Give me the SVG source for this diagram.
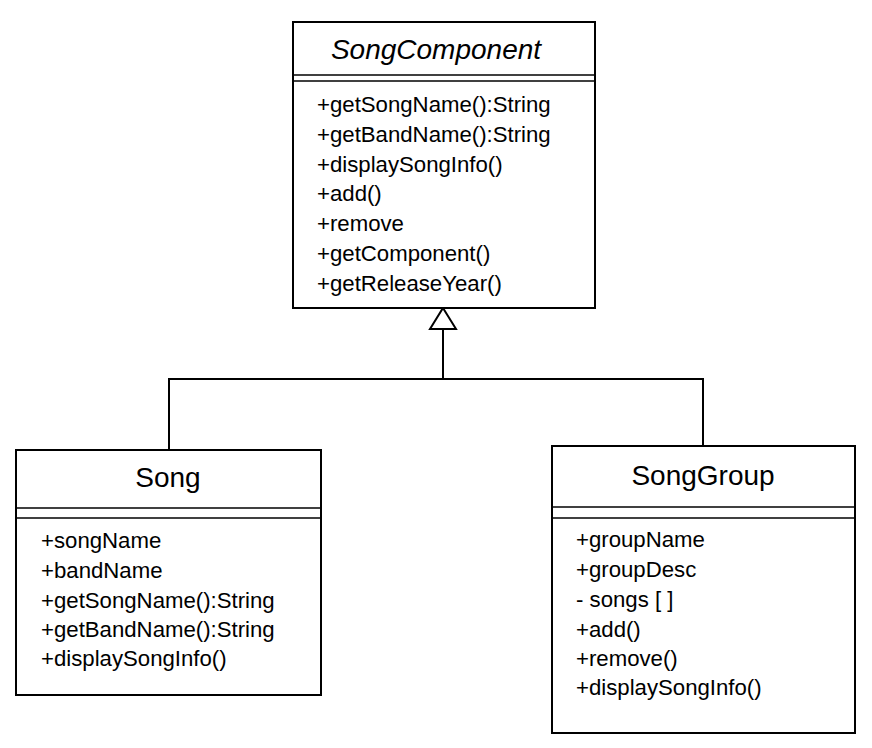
<svg xmlns="http://www.w3.org/2000/svg" width="872" height="748" viewBox="0 0 872 748">
<style>
.box{fill:#fff;stroke:#000;stroke-width:2}
.sep{stroke:#000;stroke-width:1.5}
.title{font-family:"Liberation Sans",Arial,sans-serif;font-size:28px;fill:#000;text-anchor:middle}
.mem{font-family:"Liberation Sans",Arial,sans-serif;font-size:22.2px;fill:#000}
.conn{fill:none;stroke:#000;stroke-width:2}
</style>
<rect width="872" height="748" fill="#fff"/>
<g id="connectors">
<polyline class="conn" points="169,449 169,379 703,379 703,445"/>
<line class="conn" x1="443" y1="379" x2="443" y2="329"/>
<polygon points="443,308 456,329 430,329" fill="#fff" stroke="#000" stroke-width="2"/>
</g>
<g id="SongComponent">
<rect class="box" x="293" y="22" width="302" height="286"/>
<line class="sep" x1="293" y1="75" x2="595" y2="75"/>
<line class="sep" x1="293" y1="81" x2="595" y2="81"/>
<text class="title" x="436" y="59" font-style="italic" font-size="29">SongComponent</text>
<text class="mem" x="317" y="112">+getSongName():String</text>
<text class="mem" x="317" y="142">+getBandName():String</text>
<text class="mem" x="317" y="172">+displaySongInfo()</text>
<text class="mem" x="317" y="201">+add()</text>
<text class="mem" x="317" y="231">+remove</text>
<text class="mem" x="317" y="261">+getComponent()</text>
<text class="mem" x="317" y="291">+getReleaseYear()</text>
</g>
<g id="Song">
<rect class="box" x="16" y="450" width="305" height="245"/>
<line class="sep" x1="16" y1="508" x2="321" y2="508"/>
<line class="sep" x1="16" y1="518" x2="321" y2="518"/>
<text class="title" x="168" y="487">Song</text>
<text class="mem" x="41" y="548">+songName</text>
<text class="mem" x="41" y="578">+bandName</text>
<text class="mem" x="41" y="608">+getSongName():String</text>
<text class="mem" x="41" y="637">+getBandName():String</text>
<text class="mem" x="41" y="666">+displaySongInfo()</text>
</g>
<g id="SongGroup">
<rect class="box" x="552" y="446" width="303" height="287"/>
<line class="sep" x1="552" y1="507" x2="855" y2="507"/>
<line class="sep" x1="552" y1="518" x2="855" y2="518"/>
<text class="title" x="703" y="485">SongGroup</text>
<text class="mem" x="576" y="547">+groupName</text>
<text class="mem" x="576" y="577">+groupDesc</text>
<text class="mem" x="576" y="607">- songs [ ]</text>
<text class="mem" x="576" y="637">+add()</text>
<text class="mem" x="576" y="666">+remove()</text>
<text class="mem" x="576" y="695">+displaySongInfo()</text>
</g>
</svg>
